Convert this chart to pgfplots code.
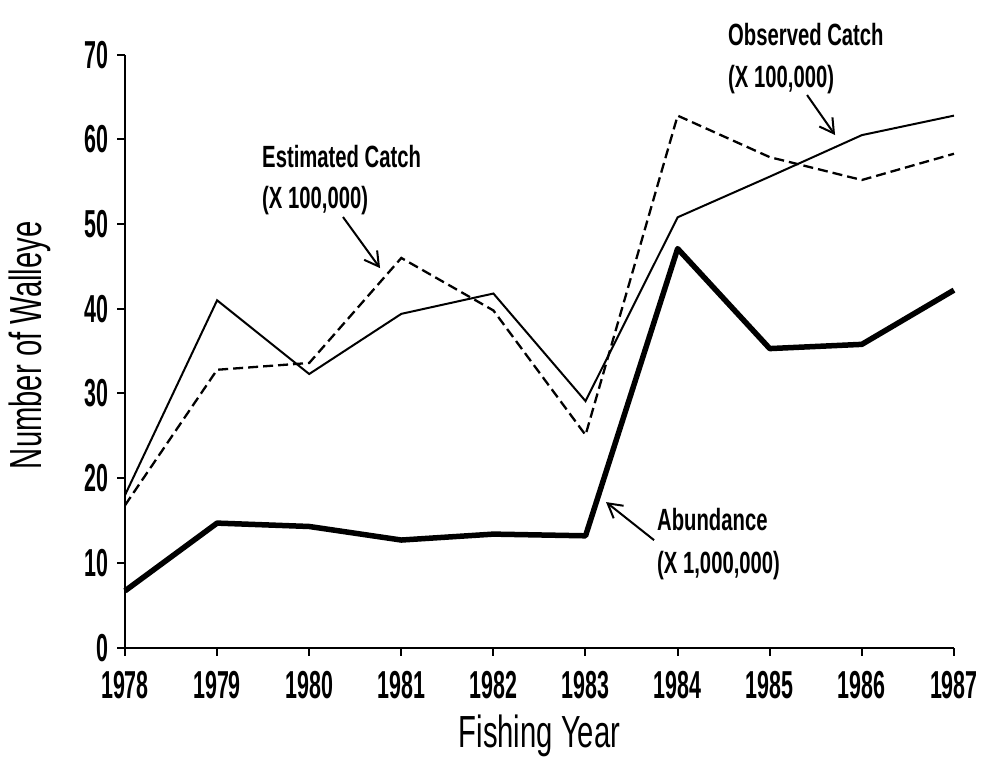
\documentclass[border=0pt]{standalone}
\usepackage{pgfplots}
\pgfplotsset{compat=1.18}
\usetikzlibrary{arrows.meta}
\usepackage{fontspec}
\setmainfont{Liberation Sans}
\newfontfamily\tickf{Liberation Sans}[FakeStretch=0.55]
\newfontfamily\labf{Liberation Sans}[FakeStretch=0.65]
\newfontfamily\annf{Liberation Sans}[FakeStretch=0.66]
\begin{document}
\begin{tikzpicture}
\begin{axis}[
  width=829bp, height=593bp, scale only axis,
  xmin=1978, xmax=1987, ymin=0, ymax=70,
  axis x line*=bottom, axis y line*=left,
  axis line style={line width=2.2bp, -},
  xtick={1978,1979,...,1987}, ytick={0,10,...,70},
  tick align=outside, major tick length=8bp,
  tick style={line width=2bp, black},
  /pgf/number format/assume math mode=true,
  /pgf/number format/1000 sep={},
  xticklabel style={font=\tickf\bfseries\fontsize{39bp}{40bp}\selectfont, yshift=-12bp},
  yticklabel style={font=\tickf\bfseries\fontsize{39bp}{40bp}\selectfont, xshift=-5bp},
  xlabel={Fishing Year}, ylabel={Number of Walleye},
  xlabel style={font=\labf\fontsize{45bp}{46bp}\selectfont, at={(axis cs:1982.5,-11.75)}, anchor=base},
  ylabel style={font=\labf\fontsize{45bp}{46bp}\selectfont, at={(axis cs:1977.099,35.7)}, anchor=base},
  clip=false,
]
% Abundance (x 1,000,000)
\addplot[black, line width=5.5bp, line join=round] coordinates {
(1978,6.7) (1979,14.7) (1980,14.3) (1981,12.7) (1982,13.4) (1983,13.2) (1984,47.1) (1985,35.3) (1986,35.8) (1987,42.2)};
% Observed catch
\addplot[black, line width=2bp] coordinates {
(1978,18.0) (1979,41.0) (1980,32.3) (1981,39.4) (1982,41.8) (1983,29.1) (1984,50.8) (1985,55.6) (1986,60.5) (1987,62.8)};
% Estimated catch
\addplot[black, line width=2.3bp, dash pattern=on 10bp off 5bp] coordinates {
(1978,16.8) (1979,32.8) (1980,33.6) (1981,46.0) (1982,39.8) (1983,25.1) (1984,62.8) (1985,57.9) (1986,55.2) (1987,58.3)};

\coordinate (bbl) at (axis cs:1976.643,-13.75);
\coordinate (btr) at (axis cs:1987.326,76.45);

\tikzset{ann/.style={font=\annf\bfseries\fontsize{30.7bp}{31bp}\selectfont, anchor=base west, inner sep=0pt}}
\node[ann] at (axis cs:1979.488,56.73) {Estimated Catch};
\node[ann] at (axis cs:1979.488,51.89) {(X 100,000)};
\draw[line width=2bp, -{Straight Barb[length=14bp,width=16bp,line width=2bp]}] (axis cs:1980.367,50.83) -- (axis cs:1980.769,44.80);

\node[ann] at (axis cs:1984.547,71.13) {Observed Catch};
\node[ann] at (axis cs:1984.547,66.17) {(X 100,000)};
\draw[line width=2bp, -{Straight Barb[length=14bp,width=16bp,line width=2bp]}] (axis cs:1985.405,65.23) -- (axis cs:1985.709,60.51);

\node[ann] at (axis cs:1983.776,13.87) {Abundance};
\node[ann] at (axis cs:1983.776,8.80) {(X 1,000,000)};
\draw[line width=2bp, -{Straight Barb[length=14bp,width=16bp,line width=2bp]}] (axis cs:1983.744,12.69) -- (axis cs:1983.223,17.18);
\end{axis}
\pgfresetboundingbox
\path (bbl) rectangle (btr);
\end{tikzpicture}
\end{document}
